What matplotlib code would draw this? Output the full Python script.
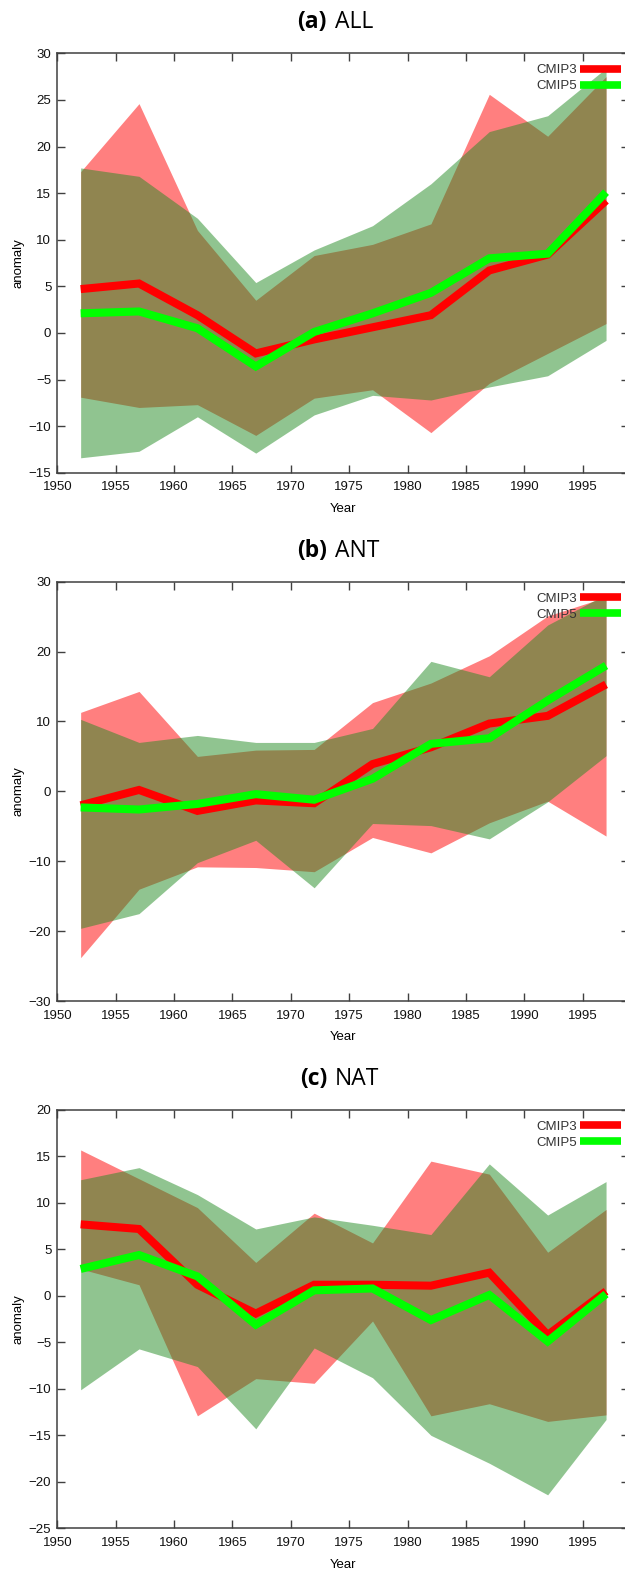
import matplotlib
matplotlib.use("Agg")
import matplotlib.pyplot as plt
from matplotlib.lines import Line2D

years = [1952, 1957, 1962, 1967, 1972, 1977, 1982, 1987, 1992, 1997]
xticks = [1950, 1955, 1960, 1965, 1970, 1975, 1980, 1985, 1990, 1995]

# (a) ALL forcings
all_cmip3_mean = [4.7, 5.3, 1.9, -2.2, -0.7, 0.6, 1.9, 6.7, 8.4, 14.2]
all_cmip3_lo = [-6.9, -8.0, -7.7, -11.0, -7.0, -6.1, -10.7, -5.4, -2.2, 1.0]
all_cmip3_hi = [17.3, 24.6, 11.0, 3.5, 8.3, 9.5, 11.7, 25.6, 21.1, 27.5]
all_cmip5_mean = [2.1, 2.3, 0.5, -3.6, 0.1, 2.1, 4.3, 8.0, 8.5, 15.1]
all_cmip5_lo = [-13.4, -12.7, -9.0, -12.9, -8.8, -6.7, -7.2, -5.8, -4.6, -0.8]
all_cmip5_hi = [17.7, 16.8, 12.3, 5.4, 8.9, 11.5, 16.0, 21.6, 23.3, 28.4]

# (b) ANT forcings
ant_cmip3_mean = [-2.0, 0.2, -2.8, -1.3, -1.7, 3.9, 6.3, 9.7, 10.8, 15.3]
ant_cmip3_lo = [-23.8, -14.0, -10.8, -10.9, -11.5, -6.6, -8.8, -4.5, -1.4, -6.4]
ant_cmip3_hi = [11.3, 14.3, 5.0, 5.9, 6.0, 12.7, 15.5, 19.4, 25.1, 27.8]
ant_cmip5_mean = [-2.3, -2.6, -1.8, -0.4, -1.2, 1.8, 6.8, 7.6, 13.0, 18.0]
ant_cmip5_lo = [-19.6, -17.5, -10.2, -7.0, -13.8, -4.6, -4.9, -6.8, -1.5, 5.1]
ant_cmip5_hi = [10.3, 7.0, 8.0, 7.0, 7.0, 9.0, 18.6, 16.4, 23.8, 28.2]

# (c) NAT forcings
nat_cmip3_mean = [7.7, 7.2, 1.2, -1.9, 1.2, 1.2, 1.1, 2.5, -4.2, 0.5]
nat_cmip3_lo = [2.9, 1.2, -12.9, -8.9, -9.4, -2.7, -12.9, -11.6, -13.5, -12.8]
nat_cmip3_hi = [15.7, 12.6, 9.5, 3.6, 8.9, 5.7, 14.5, 13.1, 4.7, 9.3]
nat_cmip5_mean = [2.9, 4.4, 2.1, -3.1, 0.6, 0.8, -2.6, 0.1, -4.9, 0.2]
nat_cmip5_lo = [-10.1, -5.7, -7.6, -14.3, -5.6, -8.8, -15.0, -18.0, -21.4, -13.3]
nat_cmip5_hi = [12.5, 13.8, 10.9, 7.2, 8.5, 7.6, 6.6, 14.2, 8.7, 12.3]

W, H = 625, 1573
TICK_FONT = "Liberation Sans"
FRAME = "#404040"


def plot_panel(fig, top, height, ylim, yticks, letter, name, c3, c5):
    left, width = 57.3, 572.1
    ax = fig.add_axes([left / W, 1 - (top + height) / H, width / W, height / H])
    ax.fill_between(years, c3[1], c3[2], color="#ff0000", alpha=0.5, lw=0)
    ax.fill_between(years, c5[1], c5[2], color="#228b22", alpha=0.5, lw=0)
    ax.plot(years, c3[0], color="#ff0000", lw=5.8, solid_capstyle="butt", solid_joinstyle="miter")
    ax.plot(years, c5[0], color="#00ff00", lw=5.8, solid_capstyle="butt", solid_joinstyle="miter")

    ax.set_xlim(1950, 1999)
    ax.set_ylim(*ylim)
    ax.set_xticks(xticks)
    ax.set_yticks(yticks)
    ax.tick_params(direction="in", length=6, width=1, color=FRAME, top=True, right=True,
                   labelsize=9.5, labelcolor="#111111")
    ax.tick_params(axis="x", pad=6.3)
    ax.tick_params(axis="y", pad=4.3)
    for lab in ax.get_xticklabels() + ax.get_yticklabels():
        lab.set_family(TICK_FONT)
    for sp in ax.spines.values():
        sp.set_color(FRAME)
        sp.set_linewidth(1.1)
    ax.spines["right"].set_visible(False)
    ax.set_xlabel("Year", family=TICK_FONT, fontsize=9.5, labelpad=7)
    ax.set_ylabel("anomaly", family=TICK_FONT, fontsize=9.5, labelpad=3)

    handles = [Line2D([], [], color="#ff0000", lw=5.5, solid_capstyle="butt"),
               Line2D([], [], color="#00ff00", lw=5.5, solid_capstyle="butt")]
    leg = ax.legend(handles, ["CMIP3", "CMIP5"], loc="upper right", bbox_to_anchor=(0.985, 0.974),
                    frameon=False, markerfirst=False, borderpad=0, borderaxespad=0,
                    handlelength=3.1, handletextpad=0.25, labelspacing=0.28,
                    prop={"family": TICK_FONT, "size": 9.5})
    for t in leg.get_texts():
        t.set_color("#333333")

    ty = 1 - (top - 31) / H
    fig.text(327 / W, ty, f"({letter})", ha="right", va="center", fontsize=16.5,
             fontweight="bold", family="Open Sans")
    fig.text(335 / W, ty, name, ha="left", va="center", fontsize=16.5, family="Open Sans")
    return ax


fig = plt.figure(figsize=(W / 100, H / 100), dpi=100)
plot_panel(fig, 53.3, 419.4, (-15, 30), range(-15, 31, 5), "a", "ALL",
           (all_cmip3_mean, all_cmip3_lo, all_cmip3_hi), (all_cmip5_mean, all_cmip5_lo, all_cmip5_hi))
plot_panel(fig, 581.7, 419.3, (-30, 30), range(-30, 31, 10), "b", "ANT",
           (ant_cmip3_mean, ant_cmip3_lo, ant_cmip3_hi), (ant_cmip5_mean, ant_cmip5_lo, ant_cmip5_hi))
plot_panel(fig, 1110.0, 418.3, (-25, 20), range(-25, 21, 5), "c", "NAT",
           (nat_cmip3_mean, nat_cmip3_lo, nat_cmip3_hi), (nat_cmip5_mean, nat_cmip5_lo, nat_cmip5_hi))

fig.savefig("out.png", dpi=100)
